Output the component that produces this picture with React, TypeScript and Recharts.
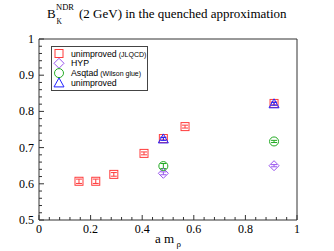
import React from "react";
import { ScatterChart, Scatter, XAxis, YAxis, ErrorBar, Legend } from "recharts";

// B_K values (x = a m_rho)
const jlqcdX = [0.155, 0.22, 0.29, 0.407, 0.482, 0.566, 0.911];
const jlqcdY = [0.607, 0.607, 0.626, 0.684, 0.725, 0.758, 0.822];
const jlqcdErr = [0.006, 0.006, 0.005, 0.004, 0.004, 0.004, 0.004];

const hypX = [0.482, 0.911];
const hypY = [0.629, 0.65];
const hypErr = [0.004, 0.003];

const asqtadX = [0.482, 0.911];
const asqtadY = [0.649, 0.717];
const asqtadErr = [0.007, 0.003];

const unimpX = [0.482, 0.911];
const unimpY = [0.724, 0.821];
const unimpErr = [0.004, 0.004];

const xTicks = [0, 0.04, 0.08, 0.12, 0.16, 0.2, 0.24, 0.28, 0.32, 0.36, 0.4, 0.44, 0.48, 0.52, 0.56, 0.6, 0.64, 0.68, 0.72, 0.76, 0.8, 0.84, 0.88, 0.92, 0.96, 1];
const xMajor = [0, 0.2, 0.4, 0.6, 0.8, 1];
const yTicks = [0.5, 0.52, 0.54, 0.56, 0.58, 0.6, 0.62, 0.64, 0.66, 0.68, 0.7, 0.72, 0.74, 0.76, 0.78, 0.8, 0.82, 0.84, 0.86, 0.88, 0.9, 0.92, 0.94, 0.96, 0.98, 1];
const yMajor = [0.5, 0.6, 0.7, 0.8, 0.9, 1];

const RED = "#ff3b3b";
const PURPLE = "#9955ee";
const GREEN = "#22aa22";
const BLUE = "#2222ff";
const AXIS = "#333";
const SERIF = "'Liberation Serif', 'Times New Roman', serif";
const SANS = "'Liberation Sans', Arial, sans-serif";

const toRows = (xs: number[], ys: number[], es: number[]) =>
  xs.map((x, i) => ({ x, y: ys[i], err: es[i] }));

const isMajor = (v: number, list: number[]) => list.some((m) => Math.abs(m - v) < 1e-6);

const Square = ({ cx, cy, color }: any) => (
  <rect x={cx - 4} y={cy - 4} width={8} height={8} fill="none" stroke={color} strokeWidth={1} />
);
const Diamond = ({ cx, cy, color }: any) => (
  <polygon points={`${cx},${cy - 5} ${cx + 5},${cy} ${cx},${cy + 5} ${cx - 5},${cy}`} fill="none" stroke={color} strokeWidth={1} />
);
const Circle = ({ cx, cy, color }: any) => (
  <circle cx={cx} cy={cy} r={4.5} fill="none" stroke={color} strokeWidth={1} />
);
const Triangle = ({ cx, cy, color }: any) => (
  <polygon points={`${cx},${cy - 5} ${cx + 5},${cy + 4} ${cx - 5},${cy + 4}`} fill="none" stroke={color} strokeWidth={1} />
);

const series = [
  { name: "unimproved", small: "(JLQCD)", color: RED, Shape: Square, data: toRows(jlqcdX, jlqcdY, jlqcdErr) },
  { name: "HYP", small: "", color: PURPLE, Shape: Diamond, data: toRows(hypX, hypY, hypErr) },
  { name: "Asqtad", small: "(Wilson glue)", color: GREEN, Shape: Circle, data: toRows(asqtadX, asqtadY, asqtadErr) },
  { name: "unimproved", small: "", color: BLUE, Shape: Triangle, data: toRows(unimpX, unimpY, unimpErr) },
];

const BottomTick = ({ x, y, payload }: any) => {
  const major = isMajor(payload.value, xMajor);
  return (
    <g>
      <line x1={x} x2={x} y1={y} y2={y - (major ? 5 : 3)} stroke={AXIS} />
      {major && (
        <text x={x} y={y + 13} textAnchor="middle" fontFamily={SERIF} fontSize={12} fill="#000">
          {String(payload.value)}
        </text>
      )}
    </g>
  );
};
const TopTick = ({ x, y, payload }: any) => {
  const major = isMajor(payload.value, xMajor);
  return <line x1={x} x2={x} y1={y} y2={y + (major ? 5 : 3)} stroke={AXIS} />;
};
const LeftTick = ({ x, y, payload }: any) => {
  const major = isMajor(payload.value, yMajor);
  return (
    <g>
      <line x1={x} x2={x + (major ? 5 : 3)} y1={y} y2={y} stroke={AXIS} />
      {major && (
        <text x={x - 5} y={y + 4} textAnchor="end" fontFamily={SERIF} fontSize={12} fill="#000">
          {String(payload.value)}
        </text>
      )}
    </g>
  );
};
const RightTick = ({ x, y, payload }: any) => {
  const major = isMajor(payload.value, yMajor);
  return <line x1={x} x2={x - (major ? 5 : 3)} y1={y} y2={y} stroke={AXIS} />;
};

const LegendBox = () => (
  <svg width={98} height={46}>
    <rect x={0.5} y={0.5} width={96} height={44} fill="#fff" stroke="#444" />
    {series.map((s, i) => {
      const cy = 7.5 + i * 9.8;
      return (
        <g key={i}>
          <s.Shape cx={8} cy={cy} color={s.color} />
          <text x={20} y={cy + 3} fontFamily={SANS} fontSize={8.75} fill="#000">
            {s.name}
            {s.small && (
              <tspan fontSize={7} dx={2}>
                {s.small}
              </tspan>
            )}
          </text>
        </g>
      );
    })}
  </svg>
);

export default function App() {
  return (
    <div style={{ position: "absolute", left: 0, top: 0, width: 334, height: 251, background: "#fff" }}>
      <ScatterChart width={334} height={251} margin={{ top: 38, right: 36, bottom: 1, left: 9 }}>
        <XAxis
          type="number"
          dataKey="x"
          domain={[0, 1]}
          ticks={xTicks}
          interval={0}
          height={30}
          tickSize={0}
          tickMargin={0}
          tickLine={false}
          axisLine={{ stroke: AXIS }}
          tick={BottomTick}
        />
        <XAxis
          xAxisId="top"
          orientation="top"
          type="number"
          dataKey="x"
          domain={[0, 1]}
          ticks={xTicks}
          interval={0}
          height={1}
          tickSize={0}
          tickMargin={0}
          tickLine={false}
          axisLine={{ stroke: AXIS }}
          tick={TopTick}
        />
        <YAxis
          type="number"
          dataKey="y"
          domain={[0.5, 1]}
          ticks={yTicks}
          interval={0}
          width={30}
          tickSize={0}
          tickMargin={0}
          tickLine={false}
          axisLine={{ stroke: AXIS }}
          tick={LeftTick}
        />
        <YAxis
          yAxisId="right"
          orientation="right"
          type="number"
          dataKey="y"
          domain={[0.5, 1]}
          ticks={yTicks}
          interval={0}
          width={1}
          tickSize={0}
          tickMargin={0}
          tickLine={false}
          axisLine={{ stroke: AXIS }}
          tick={RightTick}
        />
        {series.map((s, i) => (
          <Scatter
            key={i}
            name={s.name}
            data={s.data}
            isAnimationActive={false}
            shape={(p: any) => <s.Shape cx={p.cx} cy={p.cy} color={s.color} />}
          >
            <ErrorBar dataKey="err" direction="y" width={3} stroke={s.color} strokeWidth={1} />
          </Scatter>
        ))}
        <Legend
          layout="vertical"
          align="center"
          verticalAlign="middle"
          content={() => <LegendBox />}
          wrapperStyle={{ position: "absolute", left: 51, top: 46, width: 98, height: 46 }}
        />
      </ScatterChart>
      <svg width={334} height={251} style={{ position: "absolute", left: 0, top: 0, pointerEvents: "none" }}>
        <text x={47} y={18} fontFamily={SERIF} fontSize={13} fill="#000">B</text>
        <text x={56} y={10} fontFamily={SERIF} fontSize={8.5} fill="#000">NDR</text>
        <text x={56.5} y={24} fontFamily={SERIF} fontSize={7.5} fill="#000">K</text>
        <text x={79} y={18} fontFamily={SERIF} fontSize={13} fill="#000">(2 GeV) in the quenched approximation</text>
        <text x={155} y={243} fontFamily={SERIF} fontSize={13} fill="#000">a m</text>
        <text x={176.5} y={247} fontFamily={SERIF} fontSize={9} fill="#000">ρ</text>
      </svg>
    </div>
  );
}
